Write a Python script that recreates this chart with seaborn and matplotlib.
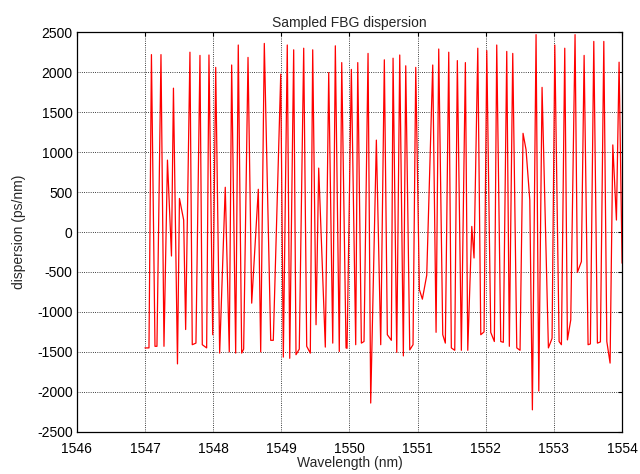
import matplotlib
matplotlib.use("Agg")
import matplotlib.pyplot as plt
import seaborn as sns
import pandas as pd

wavelength = [
    1547.000, 1547.059, 1547.095, 1547.147, 1547.176, 1547.235, 1547.279, 1547.330,
    1547.389, 1547.418, 1547.477, 1547.506, 1547.568, 1547.597, 1547.660, 1547.694,
    1547.748, 1547.807, 1547.841, 1547.905, 1547.939, 1547.994, 1548.038, 1548.096,
    1548.178, 1548.237, 1548.272, 1548.331, 1548.369, 1548.419, 1548.448, 1548.512,
    1548.566, 1548.663, 1548.698, 1548.751, 1548.845, 1548.883, 1548.992, 1549.030,
    1549.088, 1549.124, 1549.182, 1549.216, 1549.264, 1549.329, 1549.373, 1549.426,
    1549.461, 1549.510, 1549.549, 1549.646, 1549.696, 1549.755, 1549.793, 1549.851,
    1549.887, 1549.950, 1549.965, 1550.028, 1550.092, 1550.122, 1550.175, 1550.214,
    1550.273, 1550.312, 1550.395, 1550.459, 1550.512, 1550.556, 1550.615, 1550.640,
    1550.694, 1550.738, 1550.791, 1550.826, 1550.885, 1550.933, 1550.973, 1551.026,
    1551.070, 1551.134, 1551.222, 1551.271, 1551.310, 1551.369, 1551.407, 1551.457,
    1551.495, 1551.545, 1551.583, 1551.642, 1551.701, 1551.736, 1551.795, 1551.828,
    1551.883, 1551.927, 1551.975, 1552.015, 1552.073, 1552.126, 1552.161, 1552.220,
    1552.258, 1552.308, 1552.346, 1552.396, 1552.455, 1552.503, 1552.547, 1552.591,
    1552.646, 1552.684, 1552.738, 1552.778, 1552.826, 1552.919, 1552.973, 1553.013,
    1553.076, 1553.110, 1553.159, 1553.198, 1553.247, 1553.310, 1553.344, 1553.403,
    1553.443, 1553.501, 1553.535, 1553.585, 1553.638, 1553.682, 1553.732, 1553.776,
    1553.824, 1553.864, 1553.917, 1553.956, 1554.000,
]

dispersion = [
    -1450, -1450, 2220, -1430, -1430, 2220, -1430, 900,
    -300, 1800, -1650, 420, 150, -1220, 2250, -1410,
    -1390, 2210, -1410, -1450, 2215, -1285, 2060, -1515,
    560, -1500, 2090, -1515, 2340, -1515, -1465, 2185,
    -890, 535, -1500, 2360, -1355, -1355, 1975, -1565,
    2340, -1580, 2280, -1535, -1465, 2300, -1430, -1515,
    2280, -1160, 800, -1440, 1995, -1390, 2330, -1495,
    2120, -1450, -1455, 2035, -1410, 2120, -1390, -1370,
    2235, -2140, 1150, -1410, 2155, -1285, -1355, 2175,
    -1505, 2215, -1550, 2080, -1475, -1410, 2060, -720,
    -840, -540, 2090, -1255, 2290, -1285, -1390, 2250,
    -1450, -1480, 2145, -1480, 2120, -1480, 70, -325,
    2300, -1285, -1250, 2270, -1255, -1370, 2340, -1370,
    -1380, 2260, -1430, 2235, -1450, -1480, 1235, 1030,
    400, -2225, 2470, -1990, 1810, -1450, -1330, 2340,
    -1370, -1410, 2300, -1350, -1100, 2470, -505, -370,
    2210, -1410, -1400, 2385, -1390, -1375, 2385, -1370,
    -1640, 1090, 150, 2125, -390,
]

x_ticks = [1546, 1547, 1548, 1549, 1550, 1551, 1552, 1553, 1554]
y_ticks = [-2500, -2000, -1500, -1000, -500, 0, 500, 1000, 1500, 2000, 2500]

df = pd.DataFrame({"Wavelength": wavelength, "Dispersion": dispersion})

sns.set_style("white")
plt.rcParams["font.family"] = ["Liberation Sans", "DejaVu Sans"]

fig = plt.figure(figsize=(6.4, 4.74), dpi=100)
ax = fig.add_axes([0.120, 0.089, 0.852, 0.843])

sns.lineplot(data=df, x="Wavelength", y="Dispersion", ax=ax, sort=False,
             estimator=None, color="#ff0000", linewidth=0.9)

ax.set_xlim(1546, 1554)
ax.set_ylim(-2500, 2500)
ax.set_xticks(x_ticks)
ax.set_yticks(y_ticks)
ax.set_xticklabels([str(t) for t in x_ticks], fontsize=10)
ax.set_yticklabels([str(t) for t in y_ticks], fontsize=10)
ax.grid(True, color="black", linestyle=":", linewidth=0.6)
ax.tick_params(direction="in", length=3, width=0.8, colors="black",
               top=True, right=True)
ax.tick_params(axis="x", pad=7)
ax.tick_params(axis="y", pad=3)
for s in ax.spines.values():
    s.set_visible(True)
    s.set_color("black")
    s.set_linewidth(0.9)

ax.set_title("Sampled FBG dispersion", fontsize=10, pad=4)
ax.set_xlabel("Wavelength (nm)", fontsize=10, labelpad=0)
ax.set_ylabel("dispersion (ps/nm)", fontsize=10, labelpad=8)

fig.savefig("out.png", dpi=100)
